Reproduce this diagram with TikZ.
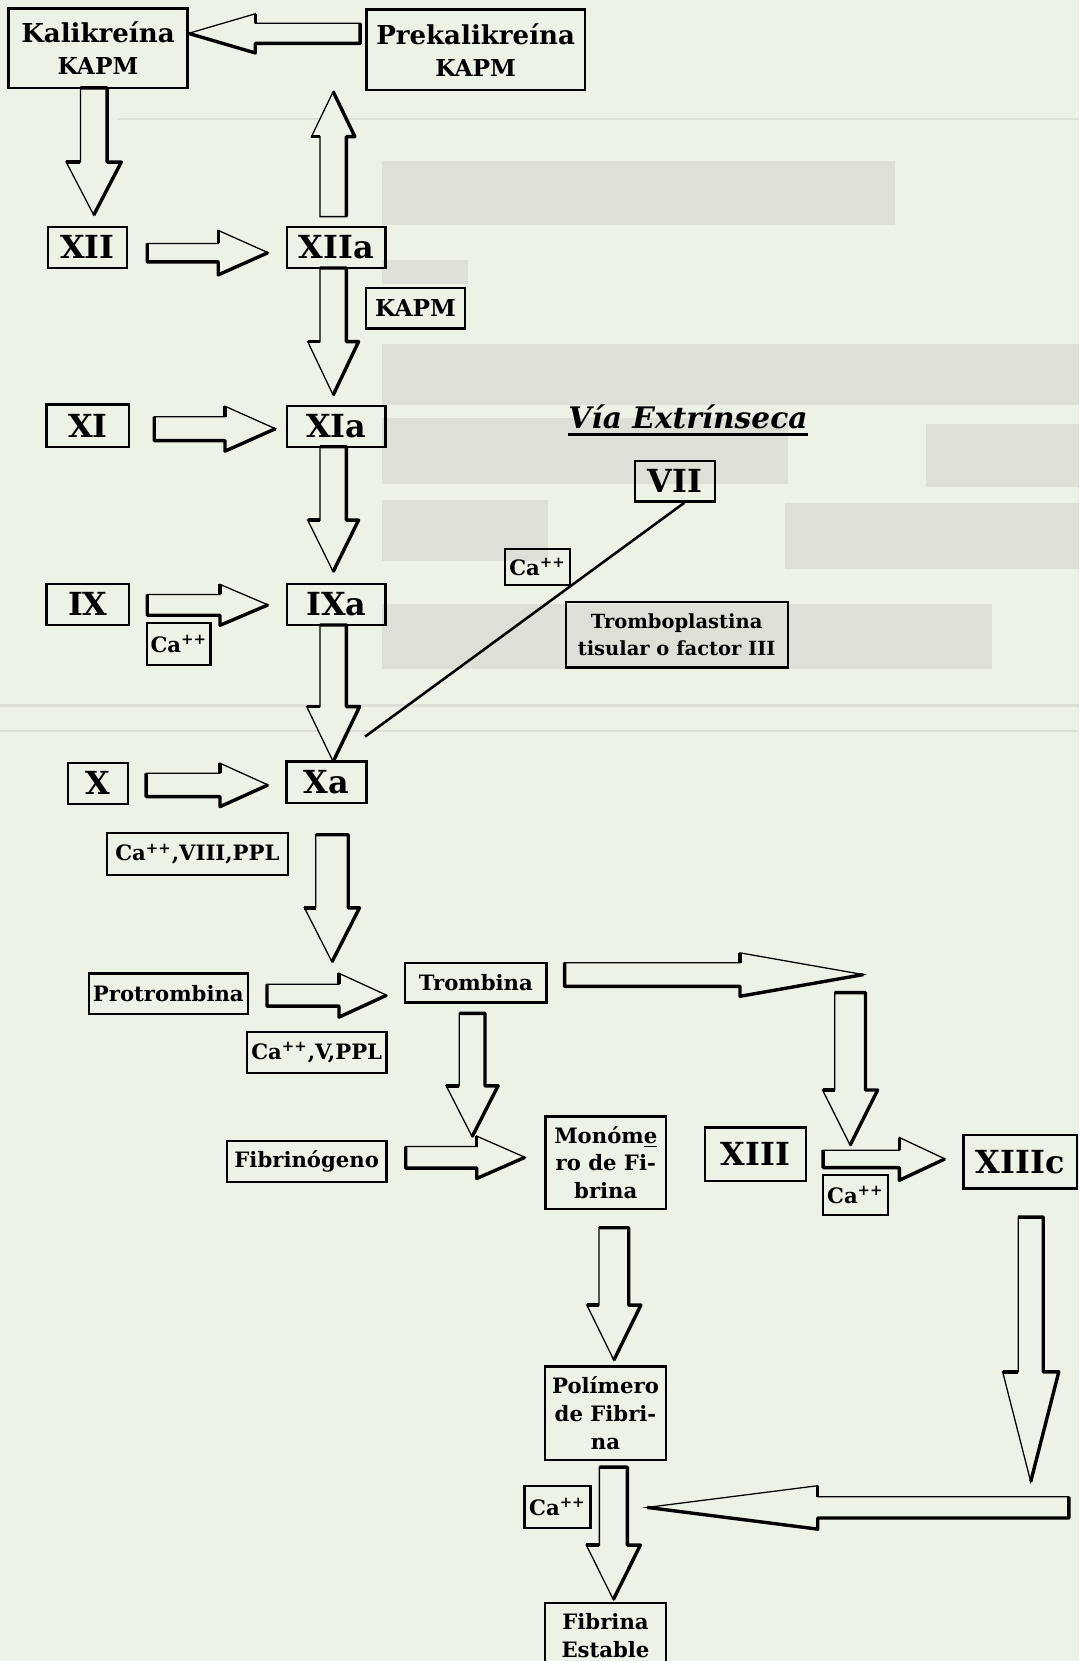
\documentclass[tikz,border=0pt]{standalone}
\usepackage{fontspec}
\setmainfont{DejaVu Serif}
\definecolor{paper}{RGB}{237,242,231}
\definecolor{ghost}{RGB}{220,224,214}
\newcommand\fbig{\fontsize{12.3}{15}\selectfont\bfseries}
\newcommand\fmid{\fontsize{11}{15}\selectfont\bfseries}
\newcommand\fnum{\fontsize{15}{18}\selectfont\bfseries}
\newcommand\fsm{\fontsize{10}{13}\selectfont\bfseries}
\newcommand\ftp{\fontsize{9.2}{12.6}\selectfont\bfseries}
\newcommand\fvia{\fontsize{14}{16}\selectfont\bfseries\itshape}
\newcommand\plpl{\textsuperscript{++}}
\tikzset{
  box/.style={draw=black, line width=1.1pt, inner sep=0pt, align=center},
  thinl/.style={line width=0.6pt, line join=miter},
  thickl/.style={line width=1.6pt, line join=round},
  conn/.style={line width=1.2pt},
}
% box: name, x1, y1, x2, y2, font, content
\newcommand\mkbox[7]{%
  \pgfmathsetmacro\bw{(#4-#2)*0.5}\pgfmathsetmacro\bh{(#5-#3)*0.5}%
  \node[box, font=#6, minimum width=\bw pt, minimum height=\bh pt] (#1) at ({(#2+#4)/2},{(#3+#5)/2}) {#7};}
% right arrow: x1 (tail), x2 (tip), yc, shaft half, head half, head length
\newcommand\arR[6]{%
  \pgfmathsetmacro\ax{#2-#6}%
  \pgfmathsetmacro\yt{#3-#4}\pgfmathsetmacro\yb{#3+#4}%
  \pgfmathsetmacro\yht{#3-#5}\pgfmathsetmacro\yhb{#3+#5}%
  \filldraw[fill=paper, thinl] (#1,\yt) -- (\ax,\yt) -- (\ax,\yht) -- (#2,#3) -- (\ax,\yhb) -- (\ax,\yb) -- (#1,\yb) -- cycle;
  \draw[thickl] (#1,\yt) -- (#1,\yb) -- (\ax,\yb) -- (\ax,\yhb) -- (#2,#3);
  \draw[thickl] (\ax,\yt) -- (\ax,\yht);}
% left arrow: x1 (tail, right), x2 (tip, left), yc, s, h, L
\newcommand\arL[6]{%
  \pgfmathsetmacro\ax{#2+#6}%
  \pgfmathsetmacro\yt{#3-#4}\pgfmathsetmacro\yb{#3+#4}%
  \pgfmathsetmacro\yht{#3-#5}\pgfmathsetmacro\yhb{#3+#5}%
  \filldraw[fill=paper, thinl] (#1,\yt) -- (\ax,\yt) -- (\ax,\yht) -- (#2,#3) -- (\ax,\yhb) -- (\ax,\yb) -- (#1,\yb) -- cycle;
  \draw[thickl] (#1,\yt) -- (#1,\yb) -- (\ax,\yb) -- (\ax,\yhb) -- (#2,#3);
  \draw[thickl] (\ax,\yt) -- (\ax,\yht);}
% down arrow: xc, y1 (tail, top), y2 (tip), s, h, L
\newcommand\arD[6]{%
  \pgfmathsetmacro\ay{#3-#6}%
  \pgfmathsetmacro\xl{#1-#4}\pgfmathsetmacro\xr{#1+#4}%
  \pgfmathsetmacro\xhl{#1-#5}\pgfmathsetmacro\xhr{#1+#5}%
  \filldraw[fill=paper, thinl] (\xl,#2) -- (\xr,#2) -- (\xr,\ay) -- (\xhr,\ay) -- (#1,#3) -- (\xhl,\ay) -- (\xl,\ay) -- cycle;
  \draw[thickl] (\xl,#2) -- (\xr,#2) -- (\xr,\ay) -- (\xhr,\ay) -- (#1,#3);
  \draw[thickl] (\xl,\ay) -- (\xhl,\ay);}
% up arrow: xc, y1 (tail, bottom), y2 (tip, top), s, h, L
\newcommand\arU[6]{%
  \pgfmathsetmacro\ay{#3+#6}%
  \pgfmathsetmacro\xl{#1-#4}\pgfmathsetmacro\xr{#1+#4}%
  \pgfmathsetmacro\xhl{#1-#5}\pgfmathsetmacro\xhr{#1+#5}%
  \filldraw[fill=paper, thinl] (\xl,#2) -- (\xr,#2) -- (\xr,\ay) -- (\xhr,\ay) -- (#1,#3) -- (\xhl,\ay) -- (\xl,\ay) -- cycle;
  \draw[thickl] (\xr,#2) -- (\xr,\ay) -- (\xhr,\ay) -- (#1,#3);
  \draw[thickl] (\xl,\ay) -- (\xhl,\ay);}
\begin{document}
\begin{tikzpicture}[x=0.5pt, y=-0.5pt]
\useasboundingbox (0,0) rectangle (1018.6,1568);
\fill[paper] (0,0) rectangle (1018.6,1568);
% faint show-through of the facing page
\begin{scope}[ghost]
  \fill (361,152) rectangle (845,212);
  \fill (361,245) rectangle (442,268);
  \fill (361,325) rectangle (1018.6,382);
  \fill (361,395) rectangle (744,457);
  \fill (874,400) rectangle (1018.6,460);
  \fill (361,472) rectangle (517,530);
  \fill (741,475) rectangle (1018.6,537);
  \fill (361,570) rectangle (936,632);
  \draw[line width=1pt] (110,112) -- (1018.6,112);
  \draw[line width=1pt] (0,666) -- (1018.6,666);
  \draw[line width=1pt] (0,690) -- (1018.6,690);
\end{scope}

% ---------- block arrows ----------
\arL{340}{178}{31.5}{9.5}{18.5}{63}      % Prekalikreina -> Kalikreina
\arD{88.5}{83}{203}{12.6}{26}{50}        % Kalikreina -> XII
\arR{139}{253}{238.5}{8.7}{21}{47}       % XII -> XIIa
\arU{314.5}{204.5}{86.5}{12.5}{20.5}{42.5} % XIIa -> Prekalikreina
\arD{314.5}{253}{373}{12.5}{24}{50.5}    % XIIa -> XIa
\arR{145.6}{260}{404.7}{11.2}{21.2}{47.6}% XI -> XIa
\arD{314.5}{421.7}{539.7}{12.5}{24}{48.7}% XIa -> IXa
\arR{139}{253}{571}{9.8}{19.3}{45.3}     % IX -> IXa
\arD{314.5}{590}{719}{12.5}{25}{52}      % IXa -> Xa
\arR{138}{253}{741}{11}{20.5}{45.3}      % X -> Xa
\arD{313.4}{788}{908}{15.3}{26}{51}      % Xa -> Trombina
\arR{252}{365}{939.5}{10.3}{20.7}{45}    % Protrombina -> Trombina
\arR{533}{815}{920}{11.2}{20.5}{116.4}   % Trombina -> right
\arD{802.5}{937}{1081}{14.5}{26}{52}     % down to XIII -> XIIIc
\arD{445.7}{956.6}{1073}{12.1}{24.5}{48} % Trombina -> Monomero
\arR{383}{495.6}{1092.5}{10.2}{20}{45.6} % Fibrinogeno -> Monomero
\arR{777}{892}{1094}{8.2}{20.2}{43}      % XIII -> XIIIc
\arD{973}{1149}{1398.7}{11.8}{26.5}{103.7}% XIIIc -> down
\arD{579.5}{1159}{1284}{14}{25.5}{52}    % Monomero -> Polimero
\arD{579}{1385}{1510}{13.2}{25.5}{51.4}  % Polimero -> Fibrina estable
\arL{1009}{611}{1423}{10}{20.5}{161}     % XIIIc branch -> Fibrina estable

% ---------- boxes ----------
\mkbox{kal}{8}{8}{177}{83}{\fbig}{Kalikreína\\\fmid KAPM}
\mkbox{prekal}{346}{9}{552}{85}{\fbig}{Prekalikreína\\\fmid KAPM}
\mkbox{xii}{45}{214}{120}{253}{\fnum}{XII}
\mkbox{xiia}{271}{214}{364}{253}{\fnum}{XIIa}
\mkbox{kapm}{345.6}{272}{439}{310}{\fmid}{KAPM}
\mkbox{xi}{44}{382}{121.8}{421.7}{\fnum}{XI}
\mkbox{xia}{271}{383}{364}{421.7}{\fnum}{XIa}
\mkbox{vii}{599.5}{435}{674.7}{473.5}{\fnum}{VII}
\mkbox{caext}{477}{518}{538}{552}{\fsm}{Ca\plpl}
\mkbox{trombopl}{534}{568}{743.6}{630}{\ftp}{Tromboplastina\\tisular o factor III}
\mkbox{ix}{44}{551}{121.8}{590}{\fnum}{IX}
\mkbox{ixa}{271}{551}{364}{590}{\fnum}{IXa}
\mkbox{caix}{139}{588}{198.7}{627.8}{\fsm}{Ca\plpl}
\mkbox{x}{64}{720}{121}{759}{\fnum}{X}
\mkbox{xa}{270.6}{719}{346}{758}{\fnum}{Xa}
\mkbox{caviii}{101}{786.6}{271.7}{826}{\fsm}{Ca\plpl,VIII,PPL}
\mkbox{protr}{83.8}{919}{234}{957}{\fsm}{Protrombina}
\mkbox{tromb}{382.5}{908.8}{516}{946.5}{\fsm}{Trombina}
\mkbox{cav}{233}{974.5}{365}{1012.6}{\fsm}{Ca\plpl,V,PPL}
\mkbox{fibrin}{214}{1076.8}{365}{1115.5}{\fsm}{Fibrinógeno}
\mkbox{monom}{515}{1054}{628.7}{1141}{\fsm}{Monóm\underline{e}\\ro de Fi-\\brina}
\mkbox{xiii}{665.5}{1064.5}{760.7}{1115}{\fnum}{XIII}
\mkbox{caxiii}{777}{1109}{838}{1147}{\fsm}{Ca\plpl}
\mkbox{xiiic}{909.4}{1071.5}{1016.5}{1122}{\fnum}{XIIIc}
\mkbox{polim}{514.5}{1290}{628.7}{1378}{\fsm}{Polímero\\de Fibri-\\na}
\mkbox{capol}{495}{1403}{557.5}{1442.5}{\fsm}{Ca\plpl}
\mkbox{fest}{514.5}{1513}{628.7}{1575}{\fsm}{Fibrina\\Estable}

% ---------- extrinsic pathway ----------
\node[anchor=base, inner sep=0pt] (via) at (649.5,404.6) {\fvia Vía Extrínseca};
\draw[line width=1.3pt] ([yshift=-2.7pt]via.base west) -- ([yshift=-2.7pt]via.base east);
\coordinate (xaend) at (344.6,695.4);
\draw[conn] ([xshift=4.45pt]vii.south) -- (xaend);
\end{tikzpicture}
\end{document}
